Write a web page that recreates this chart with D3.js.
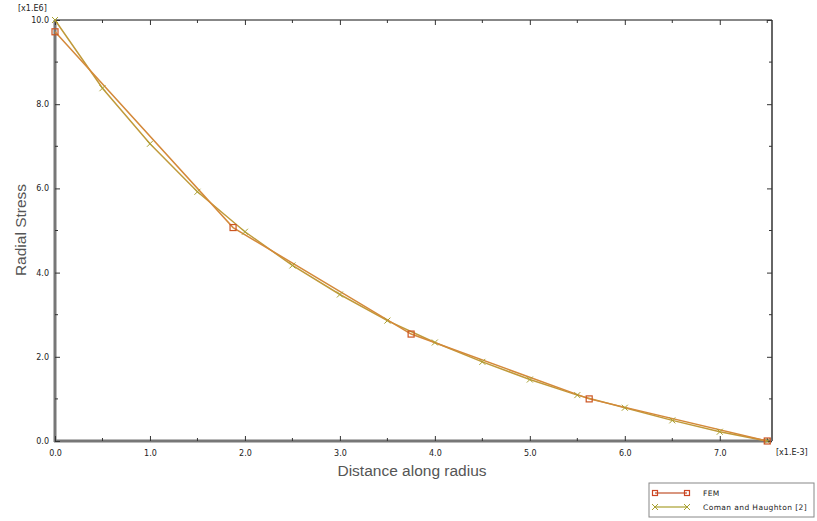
<!DOCTYPE html>
<html>
<head>
<title>Radial stress</title>
<style>
  body { margin: 0; background: #fff; }
  text { font-family: "DejaVu Sans", sans-serif; }
  .tick text { font-size: 8px; fill: #222; }
  .title { font-family: "Liberation Sans", Arial, sans-serif; font-size: 15.5px; fill: #555; }
</style>
</head>
<body>
<script src="https://cdnjs.cloudflare.com/ajax/libs/d3/7.8.5/d3.min.js"></script>
<script>
// data (x in 1e-3, stress in 1e6)
var femX = [0, 1.875, 3.75, 5.625, 7.5];
var femY = [9.72, 5.07, 2.54, 1.0, 0.0];
var comanX = [0, 0.5, 1.0, 1.5, 2.0, 2.5, 3.0, 3.5, 4.0, 4.5, 5.0, 5.5, 6.0, 6.5, 7.0, 7.5];
var comanY = [10.0, 8.38, 7.06, 5.92, 4.97, 4.17, 3.48, 2.86, 2.34, 1.88, 1.46, 1.09, 0.79, 0.49, 0.22, 0.0];
var xTicks = [0, 1, 2, 3, 4, 5, 6, 7];
var yTicks = [0, 2, 4, 6, 8, 10];
var seriesNames = ["FEM", "Coman and Haughton [2]"];

var width = 817, height = 521;
var x0 = 55, x1 = 772, y0 = 20, y1 = 441;

var x = d3.scaleLinear().domain([0, 7.55]).range([x0, x1]);
var y = d3.scaleLinear().domain([0, 10]).range([y1, y0]);

var svg = d3.select("body").append("svg")
  .attr("width", width)
  .attr("height", height);

// frame: top and right thin, left and bottom grey and thick
svg.append("line").attr("x1", x0).attr("x2", x1).attr("y1", y0).attr("y2", y0)
  .attr("stroke", "#111").attr("stroke-width", 1);
svg.append("line").attr("x1", x1).attr("x2", x1).attr("y1", y0).attr("y2", y1)
  .attr("stroke", "#666").attr("stroke-width", 2);
svg.append("line").attr("x1", x0).attr("x2", x0).attr("y1", y0).attr("y2", y1 + 1)
  .attr("stroke", "#777").attr("stroke-width", 3);
svg.append("line").attr("x1", x0 - 1).attr("x2", x1).attr("y1", y1).attr("y2", y1)
  .attr("stroke", "#777").attr("stroke-width", 3);

// axes with inward ticks
var minorX = d3.range(0.5, 7.55, 1);
var minorY = d3.range(1, 10, 2);

var gx = svg.append("g").attr("transform", "translate(0," + y1 + ")")
  .call(d3.axisBottom(x).tickValues(xTicks).tickFormat(d3.format(".1f")).tickSize(-5).tickPadding(9));
gx.select(".domain").remove();
gx.selectAll("line").attr("stroke", "#333");

var gy = svg.append("g").attr("transform", "translate(" + x0 + ",0)")
  .call(d3.axisLeft(y).tickValues(yTicks).tickFormat(d3.format(".1f")).tickSize(-5).tickPadding(6));
gy.select(".domain").remove();
gy.selectAll("line").attr("stroke", "#333");

var gt = svg.append("g").attr("transform", "translate(0," + y0 + ")")
  .call(d3.axisTop(x).tickValues(xTicks).tickFormat("").tickSize(-5));
gt.select(".domain").remove();
gt.selectAll("line").attr("stroke", "#333");

var gr = svg.append("g").attr("transform", "translate(" + x1 + ",0)")
  .call(d3.axisRight(y).tickValues(yTicks).tickFormat("").tickSize(-5));
gr.select(".domain").remove();
gr.selectAll("line").attr("stroke", "#333");

// minor ticks
[[y1, -3], [y0, 3]].forEach(function(p) {
  svg.selectAll(null).data(minorX).enter().append("line")
    .attr("x1", function(d) { return x(d); }).attr("x2", function(d) { return x(d); })
    .attr("y1", p[0]).attr("y2", p[0] + p[1]).attr("stroke", "#333");
});
[[x0, 3], [x1, -3]].forEach(function(p) {
  svg.selectAll(null).data(minorY).enter().append("line")
    .attr("y1", function(d) { return y(d); }).attr("y2", function(d) { return y(d); })
    .attr("x1", p[0]).attr("x2", p[0] + p[1]).attr("stroke", "#333");
});

// exponent labels
svg.append("text").attr("x", 18).attr("y", 11).attr("font-size", 8).attr("fill", "#222").text("[x1.E6]");
svg.append("text").attr("x", 776).attr("y", 455).attr("font-size", 8).attr("fill", "#222").text("[x1.E-3]");

// titles
svg.append("text").attr("class", "title")
  .attr("x", 412).attr("y", 476).attr("text-anchor", "middle")
  .text("Distance along radius");
svg.append("text").attr("class", "title")
  .attr("transform", "translate(26,230) rotate(-90)").attr("text-anchor", "middle")
  .text("Radial Stress");

var line = d3.line().x(function(d) { return x(d[0]); }).y(function(d) { return y(d[1]); });

var femData = femX.map(function(v, i) { return [v, femY[i]]; });
var comanData = comanX.map(function(v, i) { return [v, comanY[i]]; });

var femColor = "#d4893a", femMark = "#cc5522";
var comanColor = "#c09a3a", comanMark = "#a8a030";

svg.append("path").datum(comanData).attr("d", line)
  .attr("fill", "none").attr("stroke", comanColor).attr("stroke-width", 1.5);
svg.append("path").datum(femData).attr("d", line)
  .attr("fill", "none").attr("stroke", femColor).attr("stroke-width", 1.5);

function cross(g, cx, cy, s, c) {
  g.append("path").attr("d", "M" + (cx - s) + "," + (cy - s) + "L" + (cx + s) + "," + (cy + s) +
    "M" + (cx - s) + "," + (cy + s) + "L" + (cx + s) + "," + (cy - s))
    .attr("stroke", c).attr("stroke-width", 1).attr("fill", "none");
}
function square(g, cx, cy, s, c) {
  g.append("rect").attr("x", cx - s).attr("y", cy - s).attr("width", 2 * s).attr("height", 2 * s)
    .attr("fill", "none").attr("stroke", c).attr("stroke-width", 1.2);
}

var marks = svg.append("g");
comanData.forEach(function(d) { cross(marks, x(d[0]), y(d[1]), 3, comanMark); });
femData.forEach(function(d) { square(marks, x(d[0]), y(d[1]), 3, femMark); });

// legend
var lg = svg.append("g").attr("transform", "translate(649,483)");
lg.append("rect").attr("width", 165).attr("height", 34).attr("fill", "#fff")
  .attr("stroke", "#888").attr("stroke-width", 1);
[0, 1].forEach(function(i) {
  var yy = 10 + i * 14;
  var c = i === 0 ? "#c0502a" : "#a8a030";
  lg.append("line").attr("x1", 6).attr("x2", 38).attr("y1", yy).attr("y2", yy)
    .attr("stroke", c).attr("stroke-width", 1.2);
  if (i === 0) { square(lg, 6, yy, 2.5, "#cc4422"); square(lg, 38, yy, 2.5, "#cc4422"); }
  else { cross(lg, 6, yy, 3, c); cross(lg, 38, yy, 3, c); }
  lg.append("text").attr("x", 54).attr("y", yy + 3).attr("font-size", 7.5).attr("fill", "#222")
    .attr("letter-spacing", 0.4).text(seriesNames[i]);
});
</script>
</body>
</html>
